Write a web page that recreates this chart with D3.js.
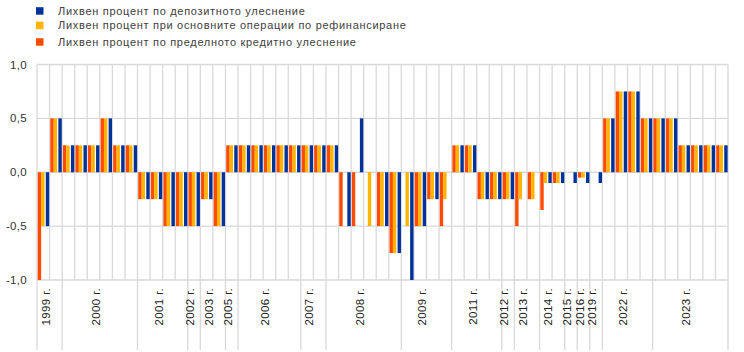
<!DOCTYPE html>
<html>
<head>
<meta charset="utf-8">
<script src="https://cdn.jsdelivr.net/npm/d3@7"></script>
<style>
  html, body { margin: 0; padding: 0; background: #fff; }
  svg { display: block; }
  text { font-family: "Liberation Sans", Arial, sans-serif; }
</style>
</head>
<body>
<svg id="chart" width="744" height="352"></svg>
<script>
// ---- Data ----
const categories = [
  "1999-04-09","1999-11-05",
  "2000-02-04","2000-03-17","2000-04-28","2000-06-09","2000-09-01","2000-10-06",
  "2001-05-11","2001-08-31","2001-09-18","2001-11-09",
  "2002-12-06",
  "2003-03-07","2003-06-06",
  "2005-12-06",
  "2006-03-08","2006-06-15","2006-08-09","2006-10-11","2006-12-13",
  "2007-03-14","2007-06-13",
  "2008-07-09","2008-10-08","2008-10-09","2008-10-15","2008-11-12","2008-12-10",
  "2009-01-21","2009-03-11","2009-04-08","2009-05-13",
  "2011-04-13","2011-07-13","2011-11-09","2011-12-14",
  "2012-07-11",
  "2013-05-08","2013-11-13",
  "2014-06-11","2014-09-10",
  "2015-12-09",
  "2016-03-16",
  "2019-09-18",
  "2022-07-27","2022-09-14","2022-11-02","2022-12-21",
  "2023-02-08","2023-03-22","2023-05-10","2023-06-21","2023-08-02","2023-09-20"
];
// Marginal lending facility rate changes (orange)
const marginalLending = [
  -1.0, 0.5,
  0.25, 0.25, 0.25, 0.5, 0.25, 0.25,
  -0.25, -0.25, -0.5, -0.5,
  -0.5,
  -0.25, -0.5,
  0.25,
  0.25, 0.25, 0.25, 0.25, 0.25,
  0.25, 0.25,
  0.25, -0.5, -0.5, 0, -0.5, -0.75,
  0, -0.5, -0.25, -0.5,
  0.25, 0.25, -0.25, -0.25,
  -0.25,
  -0.5, -0.25,
  -0.35, -0.1,
  0,
  -0.05,
  0,
  0.5, 0.75, 0.75, 0.5,
  0.5, 0.5, 0.25, 0.25, 0.25, 0.25
];
// Main refinancing operations rate changes (yellow)
const mainRefinancing = [
  -0.5, 0.5,
  0.25, 0.25, 0.25, 0.5, 0.25, 0.25,
  -0.25, -0.25, -0.5, -0.5,
  -0.5,
  -0.25, -0.5,
  0.25,
  0.25, 0.25, 0.25, 0.25, 0.25,
  0.25, 0.25,
  0.25, 0, 0, -0.5, -0.5, -0.75,
  -0.5, -0.5, -0.25, -0.25,
  0.25, 0.25, -0.25, -0.25,
  -0.25,
  -0.25, -0.25,
  -0.1, -0.1,
  0,
  -0.05,
  0,
  0.5, 0.75, 0.75, 0.5,
  0.5, 0.5, 0.25, 0.25, 0.25, 0.25
];
// Deposit facility rate changes (blue)
const depositFacility = [
  -0.5, 0.5,
  0.25, 0.25, 0.25, 0.5, 0.25, 0.25,
  -0.25, -0.25, -0.5, -0.5,
  -0.5,
  -0.25, -0.5,
  0.25,
  0.25, 0.25, 0.25, 0.25, 0.25,
  0.25, 0.25,
  0.25, -0.5, 0.5, 0, -0.5, -0.75,
  -1.0, -0.5, -0.25, 0,
  0.25, 0.25, -0.25, -0.25,
  -0.25,
  0, 0,
  -0.1, -0.1,
  -0.1,
  -0.1,
  -0.1,
  0.5, 0.75, 0.75, 0.5,
  0.5, 0.5, 0.25, 0.25, 0.25, 0.25
];
const seriesNames = [
  "Лихвен процент по депозитното улеснение",
  "Лихвен процент при основните операции по рефинансиране",
  "Лихвен процент по пределното кредитно улеснение"
];
const yTicks = [-1.0, -0.5, 0.0, 0.5, 1.0];
const yearSuffix = " г.";

// ---- Layout ----
const W = 744, H = 352;
const margin = { left: 37, right: 16, top: 64.5, bottom: 72 };
const svg = d3.select("#chart");
const colors = { ml: "#FF4B00", mro: "#FFB400", df: "#003299" };
const grid = "#d9d9d9";

const x = d3.scaleBand().domain(categories).range([margin.left, W - margin.right]).padding(0);
const y = d3.scaleLinear().domain([-1, 1]).range([H - margin.bottom, margin.top]);
const bw = x.bandwidth();
// sub-position within a category (fraction of band)
const sub = d3.scaleOrdinal().domain(["ml", "mro", "df"]).range([0.06, 0.33, 0.70]);
const barFrac = 0.27;

// horizontal gridlines
svg.append("g").selectAll("line").data(yTicks).join("line")
  .attr("x1", margin.left).attr("x2", W - margin.right)
  .attr("y1", d => y(d)).attr("y2", d => y(d))
  .attr("stroke", grid).attr("stroke-width", 1.3);

// vertical gridlines at category boundaries
const bounds = categories.map(c => x(c)).concat([x(categories[categories.length - 1]) + bw]);
svg.append("g").selectAll("line").data(bounds).join("line")
  .attr("x1", d => d).attr("x2", d => d)
  .attr("y1", y(1)).attr("y2", y(-1))
  .attr("stroke", grid).attr("stroke-width", 1.3);

// bars
const rows = categories.map((c, i) => ({ c, ml: marginalLending[i], mro: mainRefinancing[i], df: depositFacility[i] }));
const keys = ["ml", "mro", "df"];
const barData = [];
rows.forEach(r => keys.forEach(k => { if (r[k] !== 0) barData.push({ c: r.c, k, v: r[k] }); }));
svg.append("g").selectAll("rect").data(barData).join("rect")
  .attr("x", d => x(d.c) + sub(d.k) * bw)
  .attr("width", barFrac * bw)
  .attr("y", d => Math.min(y(d.v), y(0)))
  .attr("height", d => Math.abs(y(d.v) - y(0)))
  .attr("fill", d => colors[d.k]);

// y tick labels
const fmt = v => d3.format(".1f")(v).replace(".", ",").replace("−", "-");
svg.append("g").selectAll("text").data(yTicks).join("text")
  .attr("x", 27).attr("y", d => y(d))
  .attr("dy", "0.35em")
  .attr("text-anchor", "end")
  .attr("font-size", 11.5)
  .attr("letter-spacing", 0.3)
  .attr("fill", "#333")
  .text(d => fmt(d));

// year groups on x axis
const years = [];
categories.forEach(c => {
  const yr = c.slice(0, 4);
  const last = years[years.length - 1];
  if (!last || last.year !== yr) years.push({ year: yr, first: c, last: c });
  else last.last = c;
});
const axisY = y(-1);
const sepBottom = 350;
const yearBounds = [x(years[0].first)].concat(years.map(g => x(g.last) + bw));
svg.append("g").selectAll("line").data(yearBounds).join("line")
  .attr("x1", d => d).attr("x2", d => d)
  .attr("y1", axisY).attr("y2", sepBottom)
  .attr("stroke", grid).attr("stroke-width", 1.3);

svg.append("g").selectAll("text").data(years).join("text")
  .attr("transform", g => {
    const cx = (x(g.first) + x(g.last) + bw) / 2;
    return `translate(${cx},${axisY + 8}) rotate(-90)`;
  })
  .attr("text-anchor", "end")
  .attr("font-size", 11.5)
  .attr("letter-spacing", 0.4)
  .attr("fill", "#222")
  .text(g => g.year + yearSuffix);

// legend
const legendKeys = ["df", "mro", "ml"];
const legendY = [11, 25.5, 42];
const lg = svg.append("g");
legendKeys.forEach((k, i) => {
  lg.append("rect").attr("x", 36).attr("y", legendY[i] - 3.8).attr("width", 7.5).attr("height", 7.5).attr("fill", colors[k]);
  lg.append("text").attr("x", 58).attr("y", legendY[i]).attr("dy", "0.35em")
    .attr("font-size", 11).attr("fill", "#404040")
    .attr("letter-spacing", 0.7)
    .text(seriesNames[i]);
});
</script>
</body>
</html>
